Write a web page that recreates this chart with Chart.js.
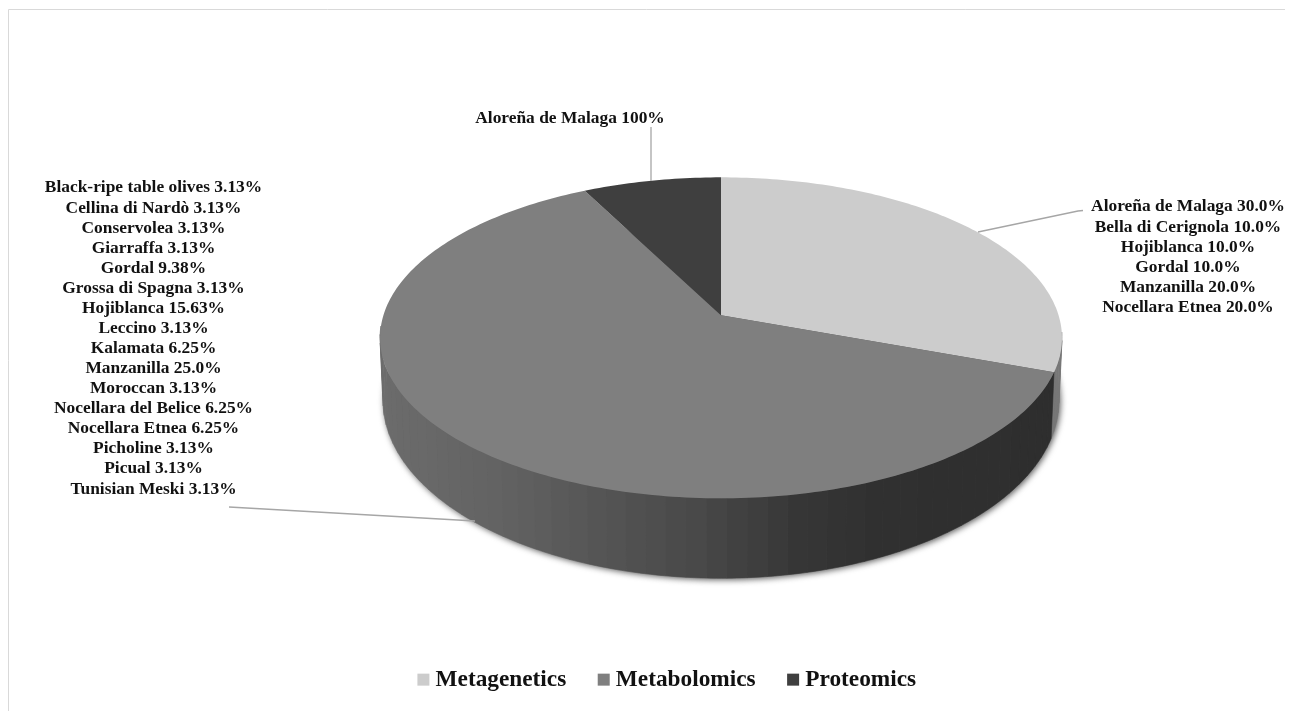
<!DOCTYPE html>
<html>
<head>
<meta charset="utf-8">
<style>html,body{margin:0;padding:0;background:#fff}canvas{display:block}</style>
<script src="https://cdn.jsdelivr.net/npm/chart.js@4/dist/chart.umd.min.js"></script>
</head>
<body>
<canvas id="pie" width="1291" height="711"></canvas>
<script>
const categories = ['Metagenetics', 'Metabolomics', 'Proteomics'];
const shares = [30.6, 61.9, 7.5];
const faceColors = ['#cccccc', '#7f7f7f', '#3f3f3f'];

const metageneticsLines = [
  'Aloreña de Malaga 30.0%', 'Bella di Cerignola 10.0%', 'Hojiblanca 10.0%',
  'Gordal 10.0%', 'Manzanilla 20.0%', 'Nocellara Etnea 20.0%'
];
const metabolomicsLines = [
  'Black-ripe table olives 3.13%', 'Cellina di Nardò 3.13%', 'Conservolea 3.13%',
  'Giarraffa 3.13%', 'Gordal 9.38%', 'Grossa di Spagna 3.13%', 'Hojiblanca 15.63%',
  'Leccino 3.13%', 'Kalamata 6.25%', 'Manzanilla 25.0%', 'Moroccan 3.13%',
  'Nocellara del Belice 6.25%', 'Nocellara Etnea 6.25%', 'Picholine 3.13%',
  'Picual 3.13%', 'Tunisian Meski 3.13%'
];
const proteomicsLines = ['Aloreña de Malaga 100%'];

const SERIF = '"Liberation Serif", "Times New Roman", serif';
const TILT = 0.14;            // perspective strength of the disc
const SQUASH = 0.466;         // vertical foreshortening
const DROP = 60;              // height of the wall below the pivot
const BASE_R = 0.9914, BASE_S = 1.109;
const STEP = Math.PI / 60;

// Grey of the front wall, darkening from left to right
const wallStops = [[380, 108], [500, 98], [600, 85], [700, 72], [800, 54], [880, 48], [1062, 46]];
function wallGrey(x) {
  for (let i = 1; i < wallStops.length; i++) {
    if (x <= wallStops[i][0]) {
      const [x0, g0] = wallStops[i - 1], [x1, g1] = wallStops[i];
      const g = Math.round(g0 + (g1 - g0) * Math.max(0, x - x0) / (x1 - x0));
      return `rgb(${g},${g},${g})`;
    }
  }
  return 'rgb(46,46,46)';
}

function project(arc, angle, base) {
  const u = Math.cos(angle), v = Math.sin(angle), w = 1 - TILT * v;
  const R = arc.outerRadius * (base ? BASE_R : 1);
  const S = arc.outerRadius * SQUASH * (base ? BASE_S : 1);
  return { x: arc.x + R * u / w, y: arc.y + (base ? DROP : 0) + S * v / w };
}

function tracePolygon(ctx, pts) {
  ctx.beginPath();
  pts.forEach((p, i) => i ? ctx.lineTo(p.x, p.y) : ctx.moveTo(p.x, p.y));
  ctx.closePath();
}

function drawBlock(ctx, lines, cx, firstY, gap) {
  ctx.save();
  ctx.font = 'bold 17.4px ' + SERIF;
  ctx.fillStyle = '#111';
  ctx.textAlign = 'center';
  ctx.textBaseline = 'middle';
  lines.forEach((t, i) => ctx.fillText(t, cx, firstY + i * gap));
  ctx.restore();
}

function drawLeader(ctx, pts) {
  ctx.save();
  ctx.strokeStyle = '#a6a6a6';
  ctx.lineWidth = 1.3;
  ctx.beginPath();
  pts.forEach((p, i) => i ? ctx.lineTo(p[0], p[1]) : ctx.moveTo(p[0], p[1]));
  ctx.stroke();
  ctx.restore();
}

const perspectivePie = {
  id: 'perspectivePie',
  beforeDraw(chart) {
    // Sits the legend row close to the bottom edge, centred under the page
    chart.legend.top = 631;
    chart.legend.left = 48;
    const ctx = chart.ctx;
    ctx.save();
    ctx.strokeStyle = '#d9d9d9';
    ctx.lineWidth = 1;
    ctx.beginPath();
    ctx.moveTo(8.5, 711);
    ctx.lineTo(8.5, 9.5);
    ctx.lineTo(1285, 9.5);
    ctx.stroke();
    ctx.restore();
  },
  beforeDatasetDraw(chart) {
    const ctx = chart.ctx;
    const arcs = chart.getDatasetMeta(0).data;
    const first = arcs[0];

    // Soft shadow under the base of the disc
    const rim = [];
    for (let a = 0; a < Math.PI * 2; a += STEP / 2) rim.push(project(first, a, true));
    ctx.save();
    ctx.filter = 'blur(3px)';
    ctx.translate(1.5, 1.5);
    ctx.fillStyle = '#5a5a5a';
    tracePolygon(ctx, rim);
    ctx.fill();
    ctx.restore();

    // Outer wall, one narrow band at a time
    arcs.forEach((arc, i) => {
      const end = arc.endAngle;
      for (let a = arc.startAngle; a < end - 1e-6; a += STEP) {
        const b = Math.min(a + STEP, end);
        if (Math.sin((a + b) / 2) < TILT - 0.05) continue;
        const mid = project(arc, (a + b) / 2, false);
        const color = i === 0 ? '#777777' : wallGrey(mid.x);
        const pts = [];
        const n = 4;
        for (let k = 0; k <= n; k++) pts.push(project(arc, a + (b - a) * k / n, false));
        for (let k = n; k >= 0; k--) pts.push(project(arc, a + (b - a) * k / n, true));
        ctx.fillStyle = color;
        ctx.strokeStyle = color;
        ctx.lineWidth = 0.6;
        tracePolygon(ctx, pts);
        ctx.fill();
        ctx.stroke();
      }
    });

    // Top faces
    arcs.forEach((arc, i) => {
      const pts = [{ x: arc.x, y: arc.y }];
      const n = Math.ceil((arc.endAngle - arc.startAngle) / (STEP / 3));
      for (let k = 0; k <= n; k++) {
        pts.push(project(arc, arc.startAngle + (arc.endAngle - arc.startAngle) * k / n, false));
      }
      ctx.fillStyle = faceColors[i];
      tracePolygon(ctx, pts);
      ctx.fill();
    });
    return false;
  },
  afterDatasetsDraw(chart) {
    const ctx = chart.ctx;
    drawLeader(ctx, [[651, 127], [651, 181]]);
    drawLeader(ctx, [[1083, 210.5], [1078, 211], [978, 232]]);
    drawLeader(ctx, [[229, 507], [475, 521]]);
    drawBlock(ctx, proteomicsLines, 570, 118.5, 20);
    drawBlock(ctx, metageneticsLines, 1188, 207, 20.1);
    drawBlock(ctx, metabolomicsLines, 153.5, 188, 20.07);
  }
};

new Chart(document.getElementById('pie'), {
  type: 'pie',
  data: {
    labels: categories,
    datasets: [{
      data: shares,
      backgroundColor: faceColors,
      borderWidth: 0,
      radius: 337.6
    }]
  },
  options: {
    responsive: false,
    animation: false,
    layout: { padding: { left: 151, top: 0, bottom: 10 } },
    plugins: {
      tooltip: { enabled: false },
      legend: {
        position: 'bottom',
        labels: {
          usePointStyle: true,
          pointStyle: 'rect',
          boxWidth: 1,
          boxHeight: 12,
          padding: 37,
          color: '#111',
          font: { family: SERIF, size: 23.3, weight: 'bold' }
        }
      }
    }
  },
  plugins: [perspectivePie]
});
</script>
</body>
</html>
